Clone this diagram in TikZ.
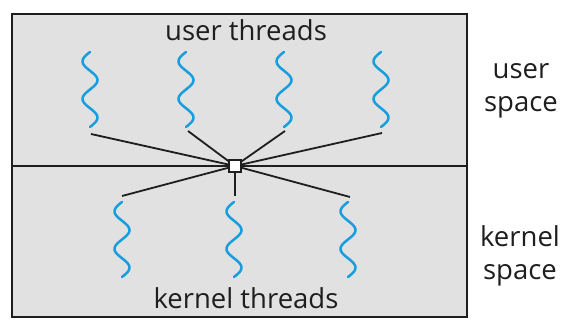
\documentclass[tikz,border=0pt]{standalone}
\usepackage{fontspec}
\setmainfont{Open Sans}
\definecolor{threadblue}{RGB}{24,158,222}
\definecolor{panelgray}{RGB}{225,225,225}
\definecolor{ink}{RGB}{30,30,30}
\begin{document}
\begin{tikzpicture}[x=1pt,y=-1pt,
  panel/.style={draw=ink, line width=2pt, fill=panelgray},
  threadline/.style={draw=threadblue, line width=2.5pt, line cap=round},
  link/.style={draw=ink, line width=1.8pt},
  hubbox/.style={draw=ink, fill=white, line width=1.6pt, minimum size=11.5pt, inner sep=0pt},
  lbl/.style={font=\fontsize{27.5}{27.5}\selectfont, text=ink, inner sep=0pt},
  side/.style={font=\fontsize{27.5}{33}\selectfont, text=ink, align=center, inner sep=0pt},
  wave/.pic={\draw[threadline] plot[domain=0:75, samples=60, smooth] ({-7.5*sin(\x*9.6)}, \x);}
]
\useasboundingbox (0,0) rectangle (582,328);
\fill[white] (0,0) rectangle (582,328);
\node[panel, minimum width=455pt, minimum height=303pt, anchor=north west] (box) at (10.5,13.5) {};
\node[hubbox] (hub) at (235,166) {};
\draw[link] (box.west |- hub) -- (hub) -- (box.east |- hub);
% user threads
\pic at (90,52) {wave};
\pic at (186,52) {wave};
\pic at (284,52) {wave};
\pic at (381,52) {wave};
% kernel threads
\pic at (122,202) {wave};
\pic at (234,202) {wave};
\pic at (348,202) {wave};
\coordinate (u1) at (91,134);
\coordinate (u2) at (188,131);
\coordinate (u3) at (285,131);
\coordinate (u4) at (382,133);
\coordinate (k1) at (122,196);
\coordinate (k2) at (235,196);
\coordinate (k3) at (350,197);
\foreach \c in {u1,u2,u3,u4,k1,k2,k3} \draw[link] (\c) -- (hub);
\node[hubbox] at (hub) {};
\node[lbl] (ut) at (246,30) {user threads};
\node[lbl] (kt) at (246,298) {kernel threads};
\node[side] (us) at (521,91) {user\\space};
\node[side] (ks) at (520,256) {kernel\\space};
\end{tikzpicture}
\end{document}
